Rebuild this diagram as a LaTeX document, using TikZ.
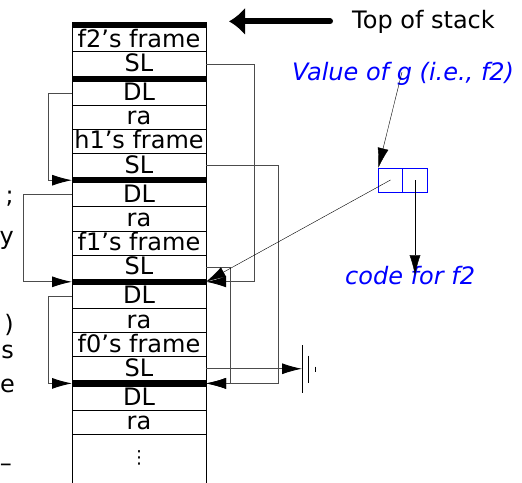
\documentclass[tikz,border=0pt]{standalone}
\usepackage{fontspec}
\setmainfont{DejaVu Sans}
\usetikzlibrary{arrows.meta,positioning,calc}

\begin{document}
\begin{tikzpicture}[
  x=1pt, y=-1pt,
  font=\fontsize{24}{28}\selectfont,
  cell/.style={rectangle, draw=black, line width=1pt, minimum width=134pt, minimum height=24.1pt, inner sep=0pt, outer sep=0pt, text height=17.5pt, text depth=2.5pt},
  bar/.style={rectangle, draw=black, fill=black, line width=1pt, minimum width=134pt, minimum height=5.2pt, inner sep=0pt, outer sep=0pt},
  ptr/.style={rectangle, draw=blue, line width=1pt, minimum width=24.5pt, minimum height=24pt, inner sep=0pt, outer sep=0pt},
  blu/.style={text=blue, font=\fontsize{24}{28}\selectfont\itshape, inner sep=0pt},
  frag/.style={anchor=base east, inner sep=0pt},
  link/.style={draw=black!70, line width=0.9pt},
  arr/.style={-{Latex[length=20pt, width=11pt, color=black]}},
  bigarr/.style={-{Latex[length=16pt, width=28pt]}, line width=6pt, line cap=round},
]
\useasboundingbox (0,0) rectangle (522,482);

% ---------------- stack ----------------
\node[bar] (bartop) at (139,25.2) {};
\node[cell, below=0pt of bartop] (nf2) {f2's frame};
\node[cell, below=0pt of nf2] (slf2) {SL};
\node[bar, below=0pt of slf2] (barf2) {};
\node[cell, below=0pt of barf2] (dlf2) {DL};
\node[cell, below=0pt of dlf2] (raf2) {ra};
\node[cell, below=0pt of raf2] (nh1) {h1's frame};
\node[cell, below=0pt of nh1] (slh1) {SL};
\node[bar, below=0pt of slh1] (barh1) {};
\node[cell, below=0pt of barh1] (dlh1) {DL};
\node[cell, below=0pt of dlh1] (rah1) {ra};
\node[cell, below=0pt of rah1] (nf1) {f1's frame};
\node[cell, below=0pt of nf1] (slf1) {SL};
\node[bar, below=0pt of slf1] (barf1) {};
\node[cell, below=0pt of barf1] (dlf1) {DL};
\node[cell, below=0pt of dlf1] (raf1) {ra};
\node[cell, below=0pt of raf1] (nf0) {f0's frame};
\node[cell, below=0pt of nf0] (slf0) {SL};
\node[bar, below=0pt of slf0] (barf0) {};
\node[cell, below=0pt of barf0] (dlf0) {DL};
\node[cell, below=0pt of dlf0] (raf0) {ra};
\draw[line width=1pt] (raf0.south west) -- ++(0,60);
\draw[line width=1pt] (raf0.south east) -- ++(0,60);
\node[font=\fontsize{18}{20}\selectfont, inner sep=0pt] (more) at (139,458) {⋮};

% ---------------- links ----------------
\coordinate (rx1) at (254,0);
\coordinate (rx2) at (278,0);
\coordinate (rx3) at (230,0);
\coordinate (lx1) at (48,0);
\coordinate (lx2) at (23,0);
\coordinate (gnd) at (302,369);

\draw[link, arr] (slf2.east) -| (rx1 |- barf1.east) -- (barf1.east);
\draw[link, arr] (slh1.east) -| (rx2 |- barf0.east) -- (barf0.east);
\draw[link, arr] (slf1.east) -| (rx3 |- barf0.east) -- (barf0.east);
\draw[link, arr] (slf0.east) -- (slf0.east -| gnd);
\draw[link, arr] (dlf2.west) -| (lx1 |- barh1.west) -- (barh1.west);
\draw[link, arr] (dlh1.west) -| (lx2 |- barf1.west) -- (barf1.west);
\draw[link, arr] (dlf1.west) -| (lx1 |- barf0.west) -- (barf0.west);

% ground
\draw[line width=1pt] (gnd) ++(0,-24) -- ++(0,48);
\draw[line width=1pt] (gnd) ++(6,-13.5) -- ++(0,27);
\draw[line width=1pt] (gnd) ++(13,-2.5) -- ++(0,5);

% ---------------- closure of g ----------------
\node[ptr] (ptrenv) at (390.5,180) {};
\node[ptr, right=0pt of ptrenv] (ptrcode) {};
\node[blu, anchor=base west] (valg) at (292,80) {Value of g (i.e., f2)};
\node[blu, anchor=base west] (codef2) at (345,284) {code for f2};
\coordinate (gtail) at (402,72);
\draw[arr] (gtail) -- (ptrenv.north west);
\draw[arr] (ptrenv.center) -- (barf1.east);
\draw[arr] (ptrcode.center) -- (ptrcode.center |- codef2.center);

% ---------------- top of stack ----------------
\node[anchor=base west, inner sep=0pt] (topstk) at (352,28) {Top of stack};
\draw[bigarr, shorten <=22pt, shorten >=23pt] (topstk.west) -- (topstk.west -| bartop.east);

% cut-off text at the left edge
\node[frag] (fr1) at (14,203) {;};
\node[frag] (fr2) at (14,244) {y};
\node[frag] (fr3) at (14,332) {)};
\node[frag] (fr4) at (14,358) {s};
\node[frag] (fr5) at (15,392) {e};
\node[frag] (fr6) at (12,471) {–};
\end{tikzpicture}
\end{document}
